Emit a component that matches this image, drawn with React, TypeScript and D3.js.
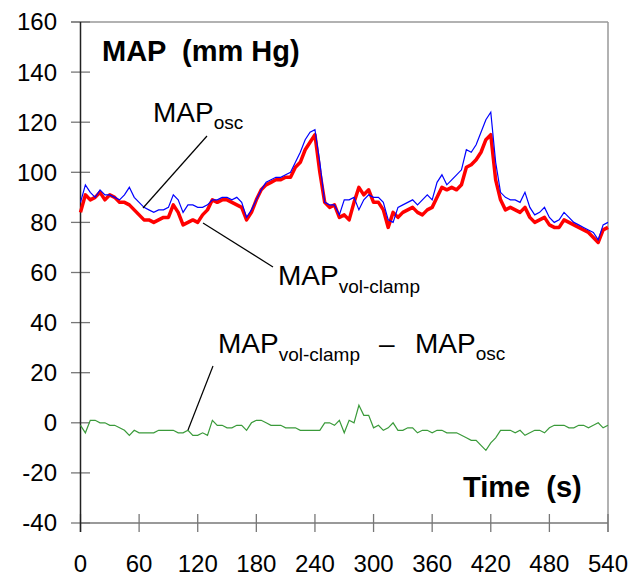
import React from "react";
import * as d3 from "d3";

// time in seconds, one sample every 5 s
const timeSec = d3.range(0, 541, 5);

// MAP measured by volume-clamp (red, thick)
const mapVolClamp = [
  84, 91, 89, 90, 92, 89, 91, 90, 88, 88, 87, 85, 83, 81, 81, 80, 81, 82, 82, 87,
  84, 79, 80, 81, 80, 83, 85, 89, 88, 89, 89, 88, 87, 86, 81, 84, 89, 93, 95, 96,
  97, 97, 98, 98, 102, 104, 109, 112, 115, 100, 88, 86, 87, 82, 83, 81, 88, 94, 91, 93,
  88, 88, 85, 78, 84, 82, 84, 85, 86, 84, 83, 85, 86, 90, 94, 93, 94, 93, 95, 102,
  103, 105, 108, 113, 115, 97, 89, 85, 86, 85, 84, 86, 82, 80, 81, 82, 79, 78, 78, 81,
  80, 79, 78, 77, 76, 74, 72, 77, 78,
];

// MAP measured oscillometrically (blue, thin)
const mapOsc = [
  88, 95, 92, 90, 93, 91, 91, 90, 89, 91, 94, 90, 88, 86, 85, 84, 85, 85, 86, 91,
  89, 84, 87, 87, 86, 86, 87, 89, 89, 90, 90, 89, 90, 88, 82, 85, 89, 93, 96, 97,
  98, 98, 99, 100, 104, 108, 113, 116, 117, 104, 88, 87, 87, 83, 89, 89, 90, 85, 89, 91,
  90, 90, 88, 81, 80, 86, 87, 88, 89, 87, 89, 91, 89, 96, 99, 95, 97, 99, 101, 109,
  108, 111, 116, 121, 124, 104, 92, 90, 89, 89, 88, 92, 86, 83, 84, 86, 82, 80, 81, 84,
  82, 80, 79, 78, 77, 76, 73, 79, 80,
];

// difference vol-clamp minus osc (green)
const mapDiff = [
  -1, -4, 1, 1, 0, 0, -1, -1, -2, -3, -5, -3, -4, -4, -4, -4, -3, -3, -3, -3,
  -4, -4, -3, -5, -5, -4, -5, 1, -1, -1, -2, -2, -1, -1, -3, 0, 1, 1, 0, -1,
  -1, -1, -2, -2, -2, -3, -3, -3, -3, -3, 0, 0, -1, 1, -4, 1, 0, 7, 3, 3,
  -2, -1, -3, -2, 0, -3, -3, -2, -2, -4, -3, -3, -4, -3, -3, -4, -4, -4, -5, -6,
  -7, -7, -9, -11, -8, -6, -3, -3, -3, -4, -3, -5, -4, -3, -3, -4, -2, -1, -1, -1,
  -2, -2, -1, -1, -2, -1, 0, -2, -1,
];

const xTicks = [0, 60, 120, 180, 240, 300, 360, 420, 480, 540];
const yTicks = [-40, -20, 0, 20, 40, 60, 80, 100, 120, 140, 160];

const W = 643;
const H = 579;
const FONT = "'Liberation Sans', Arial, sans-serif";

export default function App() {
  const x = d3.scaleLinear().domain([0, 540]).range([80.5, 608]);
  const y = d3.scaleLinear().domain([-40, 160]).range([523, 22]);

  const line = (vals: number[]) =>
    d3
      .line<number>()
      .x((_, i) => x(timeSec[i]))
      .y((d) => y(d))(vals) || "";

  const left = x(0);
  const right = x(540);
  const top = y(160);
  const bottom = y(-40);

  return (
    <svg
      width={W}
      height={H}
      style={{ position: "absolute", left: 0, top: 0, background: "#fff" }}
      fontFamily={FONT}
    >
      {/* frame */}
      <line x1={71} x2={right} y1={top} y2={top} stroke="#999" strokeWidth={1.5} />
      <line x1={right} x2={right} y1={top} y2={bottom + 9} stroke="#999" strokeWidth={1.5} />
      <line x1={left} x2={right} y1={bottom} y2={bottom} stroke="#777" strokeWidth={1.5} />
      {yTicks.map((t) => (
        <g key={"y" + t}>
          <line x1={71} x2={90} y1={y(t)} y2={y(t)} stroke="#777" strokeWidth={1.3} />
          <text x={57} y={y(t)} dy="0.35em" textAnchor="end" fontSize={24}>
            {t}
          </text>
        </g>
      ))}
      {xTicks.map((t) => (
        <g key={"x" + t}>
          <line x1={x(t)} x2={x(t)} y1={bottom - 9} y2={bottom + 9} stroke="#777" strokeWidth={1.3} />
          <text x={x(t)} y={572} textAnchor="middle" fontSize={24}>
            {t}
          </text>
        </g>
      ))}
      <line x1={left} x2={left} y1={top} y2={bottom + 9} stroke="#222" strokeWidth={1.5} />

      {/* series */}
      <path d={line(mapDiff)} fill="none" stroke="#3a9a3a" strokeWidth={1.2} />
      <path d={line(mapVolClamp)} fill="none" stroke="#ff0000" strokeWidth={3.5} strokeLinejoin="round" />
      <path d={line(mapOsc)} fill="none" stroke="#0000ff" strokeWidth={1.2} />

      {/* titles */}
      <text x={102} y={61} fontSize={29} fontWeight="bold" style={{ whiteSpace: "pre" }}>
        {"MAP  (mm Hg)"}
      </text>
      <text x={463} y={497} fontSize={29} fontWeight="bold" style={{ whiteSpace: "pre" }}>
        {"Time  (s)"}
      </text>

      {/* annotations */}
      <line x1={207} y1={136} x2={143} y2={208} stroke="#000" strokeWidth={1.2} />
      <text x={153} y={122} fontSize={28}>
        MAP<tspan fontSize={19} dy={7}>osc</tspan>
      </text>

      <line x1={203} y1={223} x2={273} y2={267} stroke="#000" strokeWidth={1.2} />
      <text x={278} y={285} fontSize={28}>
        MAP<tspan fontSize={19} dy={8}>vol-clamp</tspan>
      </text>

      <line x1={213} y1={366} x2={188} y2={430} stroke="#000" strokeWidth={1.2} />
      <text x={218} y={353} fontSize={28}>
        MAP<tspan fontSize={19} dy={8}>vol-clamp</tspan>
      </text>
      <text x={379} y={353} fontSize={28}>
        –
      </text>
      <text x={415} y={353} fontSize={28}>
        MAP<tspan fontSize={19} dy={7}>osc</tspan>
      </text>
    </svg>
  );
}
